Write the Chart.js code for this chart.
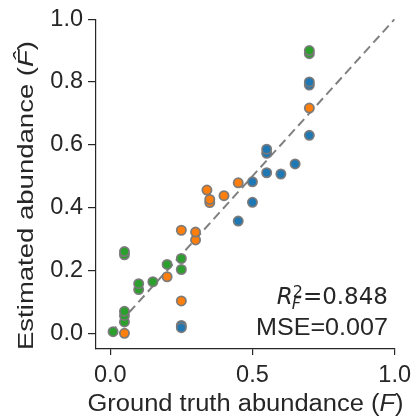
<!DOCTYPE html>
<html><head><meta charset="utf-8">
<script src="https://cdn.jsdelivr.net/npm/chart.js@4"></script>
<style>html,body{margin:0;padding:0;background:#fff;} canvas{display:block}</style>
</head><body>
<canvas id="c" width="417" height="417" style="width:417px;height:417px"></canvas>
<script>
// ---- data ----
const xTicks = [0.0, 0.5, 1.0];
const yTicks = [0.0, 0.2, 0.4, 0.6, 0.8, 1.0];
const identityLine = [0, 1];

const blueTruth = [0.25, 0.25, 0.45, 0.50, 0.50, 0.55, 0.55, 0.55, 0.60, 0.65, 0.70, 0.70, 0.70];
const blueEst   = [0.025, 0.018, 0.357, 0.417, 0.482, 0.511, 0.573, 0.586, 0.507, 0.539, 0.630, 0.790, 0.800];

const orangeTruth = [0.05, 0.20, 0.25, 0.25, 0.30, 0.30, 0.35, 0.35, 0.34, 0.40, 0.45, 0.70];
const orangeEst   = [0.000, 0.180, 0.103, 0.328, 0.297, 0.322, 0.416, 0.426, 0.456, 0.438, 0.479, 0.717];

const greenTruth = [0.01, 0.05, 0.05, 0.05, 0.05, 0.05, 0.10, 0.10, 0.15, 0.20, 0.25, 0.25, 0.70, 0.70];
const greenEst   = [0.005, 0.036, 0.057, 0.070, 0.250, 0.260, 0.139, 0.158, 0.164, 0.219, 0.203, 0.238, 0.890, 0.900];

const r2Value = "=0.848";
const mseText = "MSE=0.007";

// ---- helpers ----
const toPts = (xs, ys) => xs.map((x, i) => ({x: x, y: ys[i]}));
const FONT = "'Liberation Sans', Arial, sans-serif";
const MATH = "'DejaVu Sans', sans-serif";
const TXT = '#262626';
const EDGE = 'rgba(120,120,120,0.95)';

function ptSet(label, xs, ys, color, order) {
  return {
    type: 'scatter', label, data: toPts(xs, ys), order,
    backgroundColor: color, borderColor: EDGE, borderWidth: 1.8,
    pointRadius: 4.6, pointHoverRadius: 4.6
  };
}

const textPlugin = {
  id: 'texts',
  afterDraw(chart) {
    const ctx = chart.ctx;
    ctx.save();
    ctx.fillStyle = TXT;
    ctx.textBaseline = 'alphabetic';
    ctx.textAlign = 'left';
    function measure(list) {
      let w = 0;
      list.forEach(p => { ctx.font = p.f; p.w = ctx.measureText(p.t).width; w += p.w; });
      return w;
    }
    function drawFit(list, x0, y, target) {
      const w = measure(list);
      const k = target / w;
      ctx.save();
      ctx.translate(x0, y);
      ctx.scale(k, 1);
      let x = 0;
      list.forEach(p => { ctx.font = p.f; ctx.fillText(p.t, x, p.dy || 0); x += p.w; });
      ctx.restore();
    }
    const n = '23px ' + FONT, it = 'italic 23px ' + FONT;
    // x label
    drawFit([{t: 'Ground truth abundance (', f: n}, {t: 'F', f: it}, {t: ')', f: n}], 87.5, 410.5, 316);
    // y label (rotated)
    ctx.save();
    ctx.translate(33, 350);
    ctx.rotate(-Math.PI / 2);
    drawFit([{t: 'Estimated abundance (', f: '22.5px ' + FONT}, {t: 'F\u0302', f: 'italic 22.5px ' + FONT}, {t: ')', f: '22.5px ' + FONT}], 0, 0, 309);
    ctx.restore();
    // annotation
    const right = 388;
    drawFit([{t: mseText, f: '23.5px ' + FONT}], right - 132, 335, 132);
    // first line rendered like mathtext (DejaVu)
    const mf = '23px ' + MATH;
    ctx.font = mf;
    const eqW = ctx.measureText(r2Value).width;
    const eqX = right - eqW;
    ctx.fillText(r2Value, eqX, 304);
    const sf = '16px ' + MATH, sfi = 'oblique 16px ' + MATH;
    ctx.font = sfi; const fW = ctx.measureText('F').width;
    ctx.font = sf; const tW = ctx.measureText('2').width;
    const subX = eqX - Math.max(fW, tW) - 1;
    ctx.font = sfi; ctx.fillText('F', subX, 308.5);
    ctx.font = sf; ctx.fillText('2', subX + 1, 296.5);
    ctx.font = 'oblique 23px ' + MATH;
    const rW = ctx.measureText('R').width;
    ctx.fillText('R', subX - rW + 1, 304);
    ctx.restore();
  }
};

const axisCommon = (ticksArr, fit, tickLen, pad) => ({
  type: 'linear', min: -0.05, max: 1.0,
  afterBuildTicks: s => { s.ticks = ticksArr.map(v => ({value: v})); },
  afterFit: fit,
  ticks: {
    callback: v => Number(v).toFixed(1), color: TXT, autoSkip: false, maxRotation: 0,
    font: {family: FONT, size: 23.5}, padding: pad
  },
  grid: {drawOnChartArea: false, drawTicks: true, tickLength: tickLen, color: TXT, lineWidth: 1.2},
  border: {display: true, color: TXT, width: 1.2}
});

new Chart(document.getElementById('c'), {
  type: 'scatter',
  data: {
    datasets: [
      {type: 'line', label: 'identity', data: toPts(identityLine, identityLine), order: 10,
       borderColor: '#808080', borderWidth: 2, borderDash: [9, 5], pointRadius: 0, fill: false},
      ptSet('blue', blueTruth, blueEst, '#1f77b4', 1),
      ptSet('orange', orangeTruth, orangeEst, '#ff7f0e', 2),
      ptSet('green', greenTruth, greenEst, '#2ca02c', 3)
    ]
  },
  options: {
    responsive: false, animation: false, devicePixelRatio: 1,
    layout: {padding: {left: 0, top: 19, right: 21, bottom: 0}},
    plugins: {legend: {display: false}, tooltip: {enabled: false}},
    scales: {
      x: axisCommon(xTicks, s => { s.height = 68; }, 6, 6),
      y: axisCommon(yTicks, s => { s.width = 96; }, 8, 5)
    }
  },
  plugins: [textPlugin]
});
</script>
</body></html>
